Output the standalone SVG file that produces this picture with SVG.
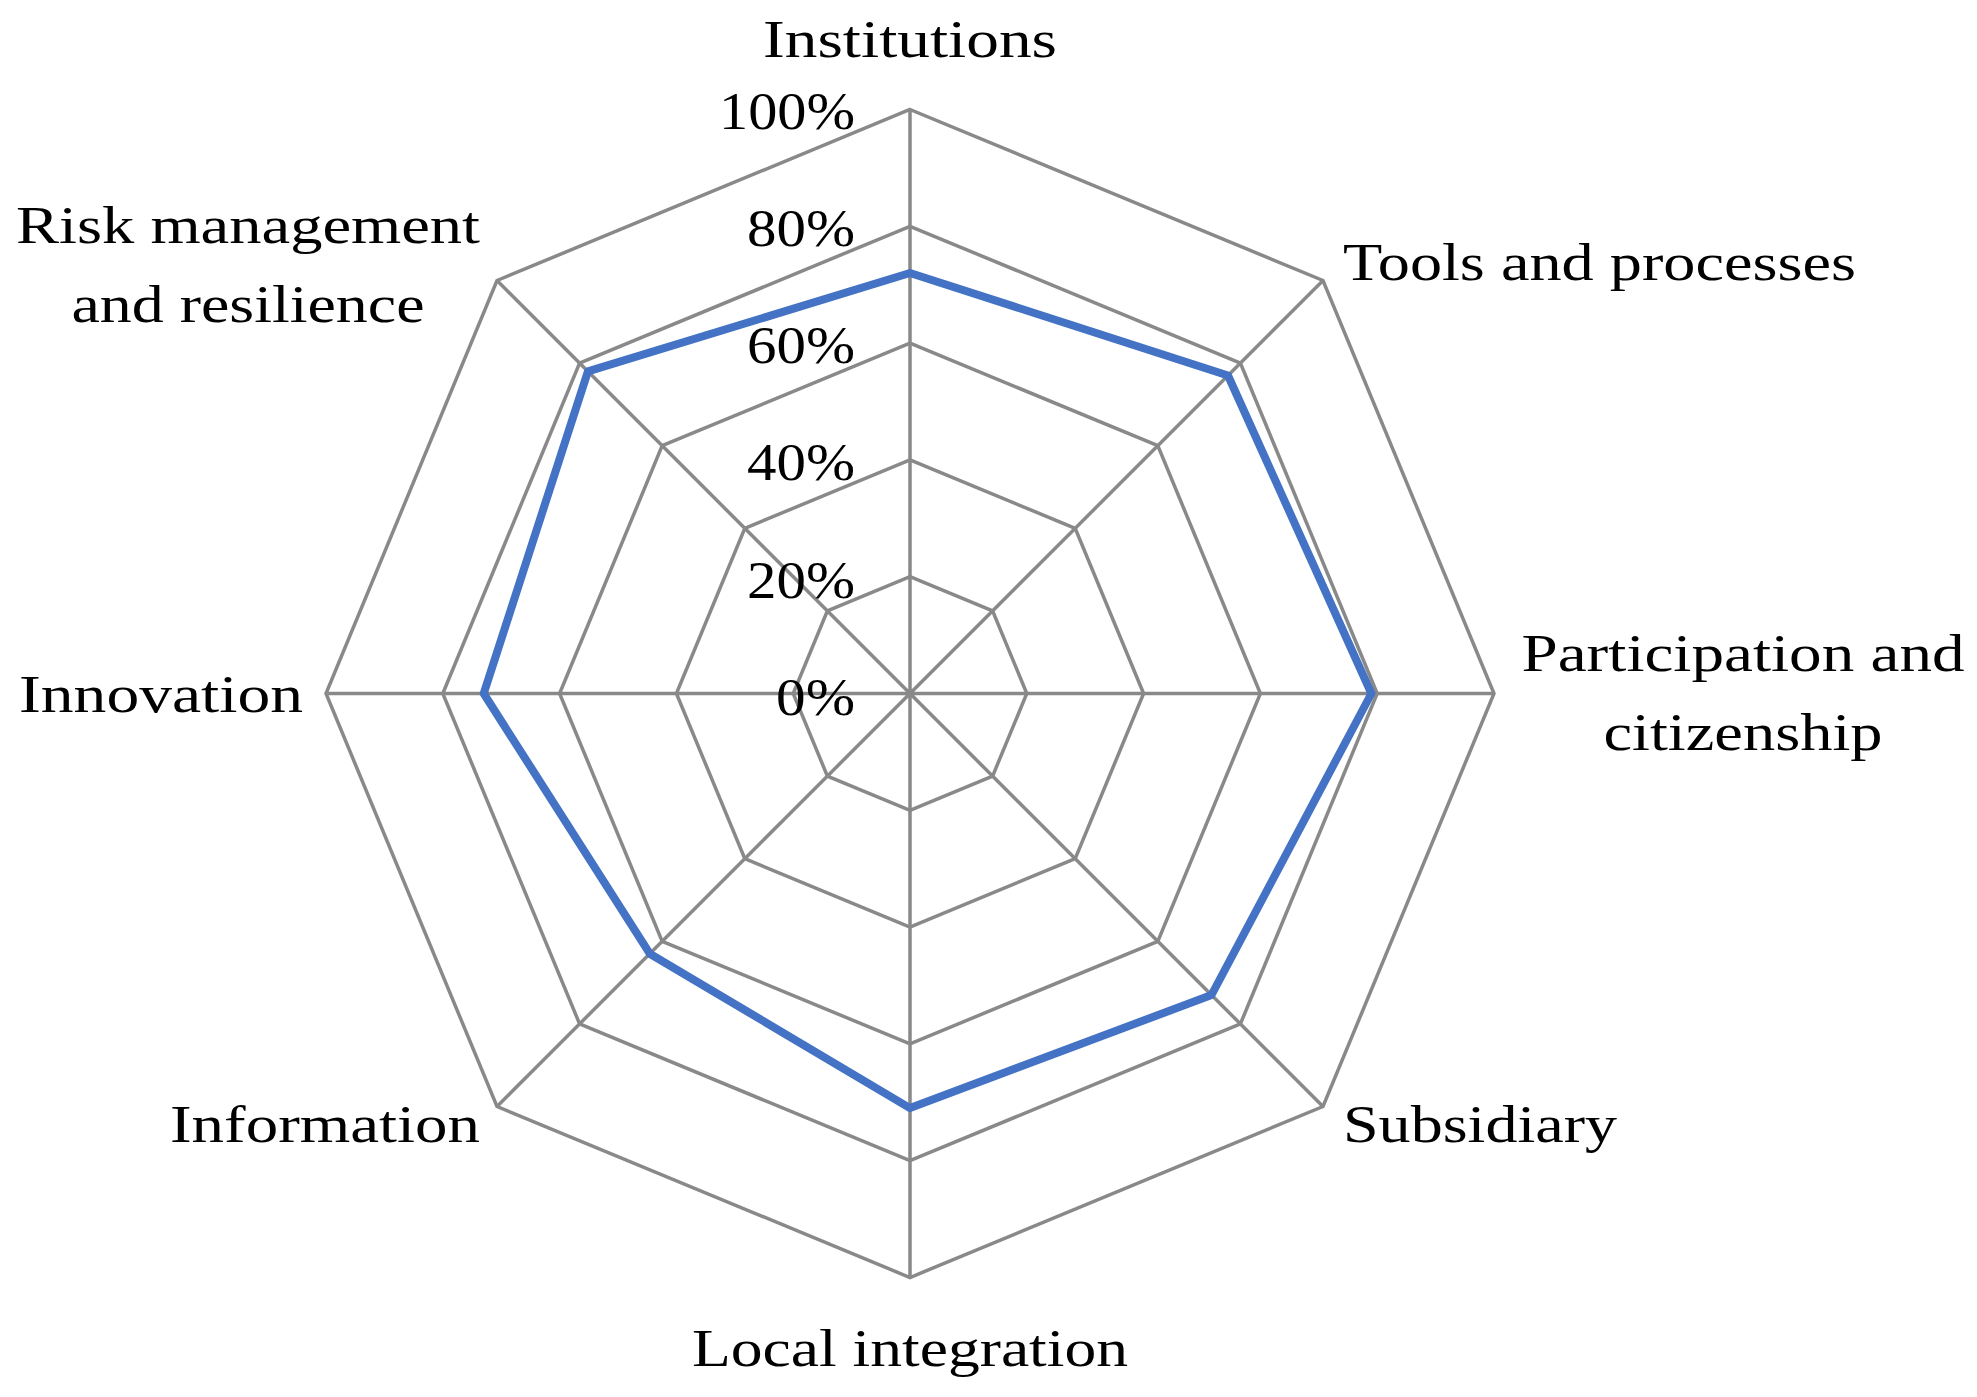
<svg xmlns="http://www.w3.org/2000/svg" width="1977" height="1397" viewBox="0 0 1977 1397">
<style>
.g{fill:none;stroke:#898989;stroke-width:3.5}
.d{fill:none;stroke:#4472C4;stroke-width:8;stroke-linejoin:round}
text{font-family:"Liberation Serif","DejaVu Serif",serif;font-size:52px;fill:#000}
.r{text-anchor:end}.m{text-anchor:middle}
</style>
<rect width="1977" height="1397" fill="#fff"/>
<g id="grid">
<polygon class="g" points="910,109.5 1323,280.5 1494,693.5 1323,1106.5 910,1277.5 497,1106.5 326,693.5 497,280.5"/>
<polygon class="g" points="910,226.3 1240.4,363.1 1377.2,693.5 1240.4,1023.9 910,1160.7 579.6,1023.9 442.8,693.5 579.6,363.1"/>
<polygon class="g" points="910,343.1 1157.8,445.7 1260.4,693.5 1157.8,941.3 910,1043.9 662.2,941.3 559.6,693.5 662.2,445.7"/>
<polygon class="g" points="910,459.9 1075.2,528.3 1143.6,693.5 1075.2,858.7 910,927.1 744.8,858.7 676.4,693.5 744.8,528.3"/>
<polygon class="g" points="910,576.7 992.6,610.9 1026.8,693.5 992.6,776.1 910,810.3 827.4,776.1 793.2,693.5 827.4,610.9"/>
<path class="g" d="M910,693.5L910,109.5M910,693.5L1323,280.5M910,693.5L1494,693.5M910,693.5L1323,1106.5M910,693.5L910,1277.5M910,693.5L497,1106.5M910,693.5L326,693.5M910,693.5L497,280.5"/>
</g>
<g id="axis-labels" lengthAdjust="spacingAndGlyphs">
<text class="r" x="855" y="129" textLength="136" lengthAdjust="spacingAndGlyphs">100%</text>
<text class="r" x="855" y="246" textLength="108" lengthAdjust="spacingAndGlyphs">80%</text>
<text class="r" x="855" y="363" textLength="108" lengthAdjust="spacingAndGlyphs">60%</text>
<text class="r" x="855" y="480" textLength="108" lengthAdjust="spacingAndGlyphs">40%</text>
<text class="r" x="855" y="598" textLength="108" lengthAdjust="spacingAndGlyphs">20%</text>
<text class="r" x="855" y="715" textLength="79" lengthAdjust="spacingAndGlyphs">0%</text>
</g>
<g id="series">
<polygon class="d" points="910,273 1228,375.5 1371.4,693.5 1211.5,995 910,1108.1 649.8,953.7 483.7,693.5 587.9,371.4"/>
</g>
<g id="category-labels">
<text class="m" x="910" y="57" textLength="294" lengthAdjust="spacingAndGlyphs">Institutions</text>
<text x="1343" y="280" textLength="513" lengthAdjust="spacingAndGlyphs">Tools and processes</text>
<text class="m" x="1743" y="671" textLength="443" lengthAdjust="spacingAndGlyphs">Participation and</text>
<text class="m" x="1743" y="750" textLength="279" lengthAdjust="spacingAndGlyphs">citizenship</text>
<text x="1343" y="1142" textLength="274" lengthAdjust="spacingAndGlyphs">Subsidiary</text>
<text class="m" x="910" y="1366" textLength="436" lengthAdjust="spacingAndGlyphs">Local integration</text>
<text class="r" x="480" y="1142" textLength="310" lengthAdjust="spacingAndGlyphs">Information</text>
<text x="19" y="712" textLength="284" lengthAdjust="spacingAndGlyphs">Innovation</text>
<text class="m" x="248" y="243" textLength="464" lengthAdjust="spacingAndGlyphs">Risk management</text>
<text class="m" x="248" y="322" textLength="353" lengthAdjust="spacingAndGlyphs">and resilience</text>
</g>
</svg>
